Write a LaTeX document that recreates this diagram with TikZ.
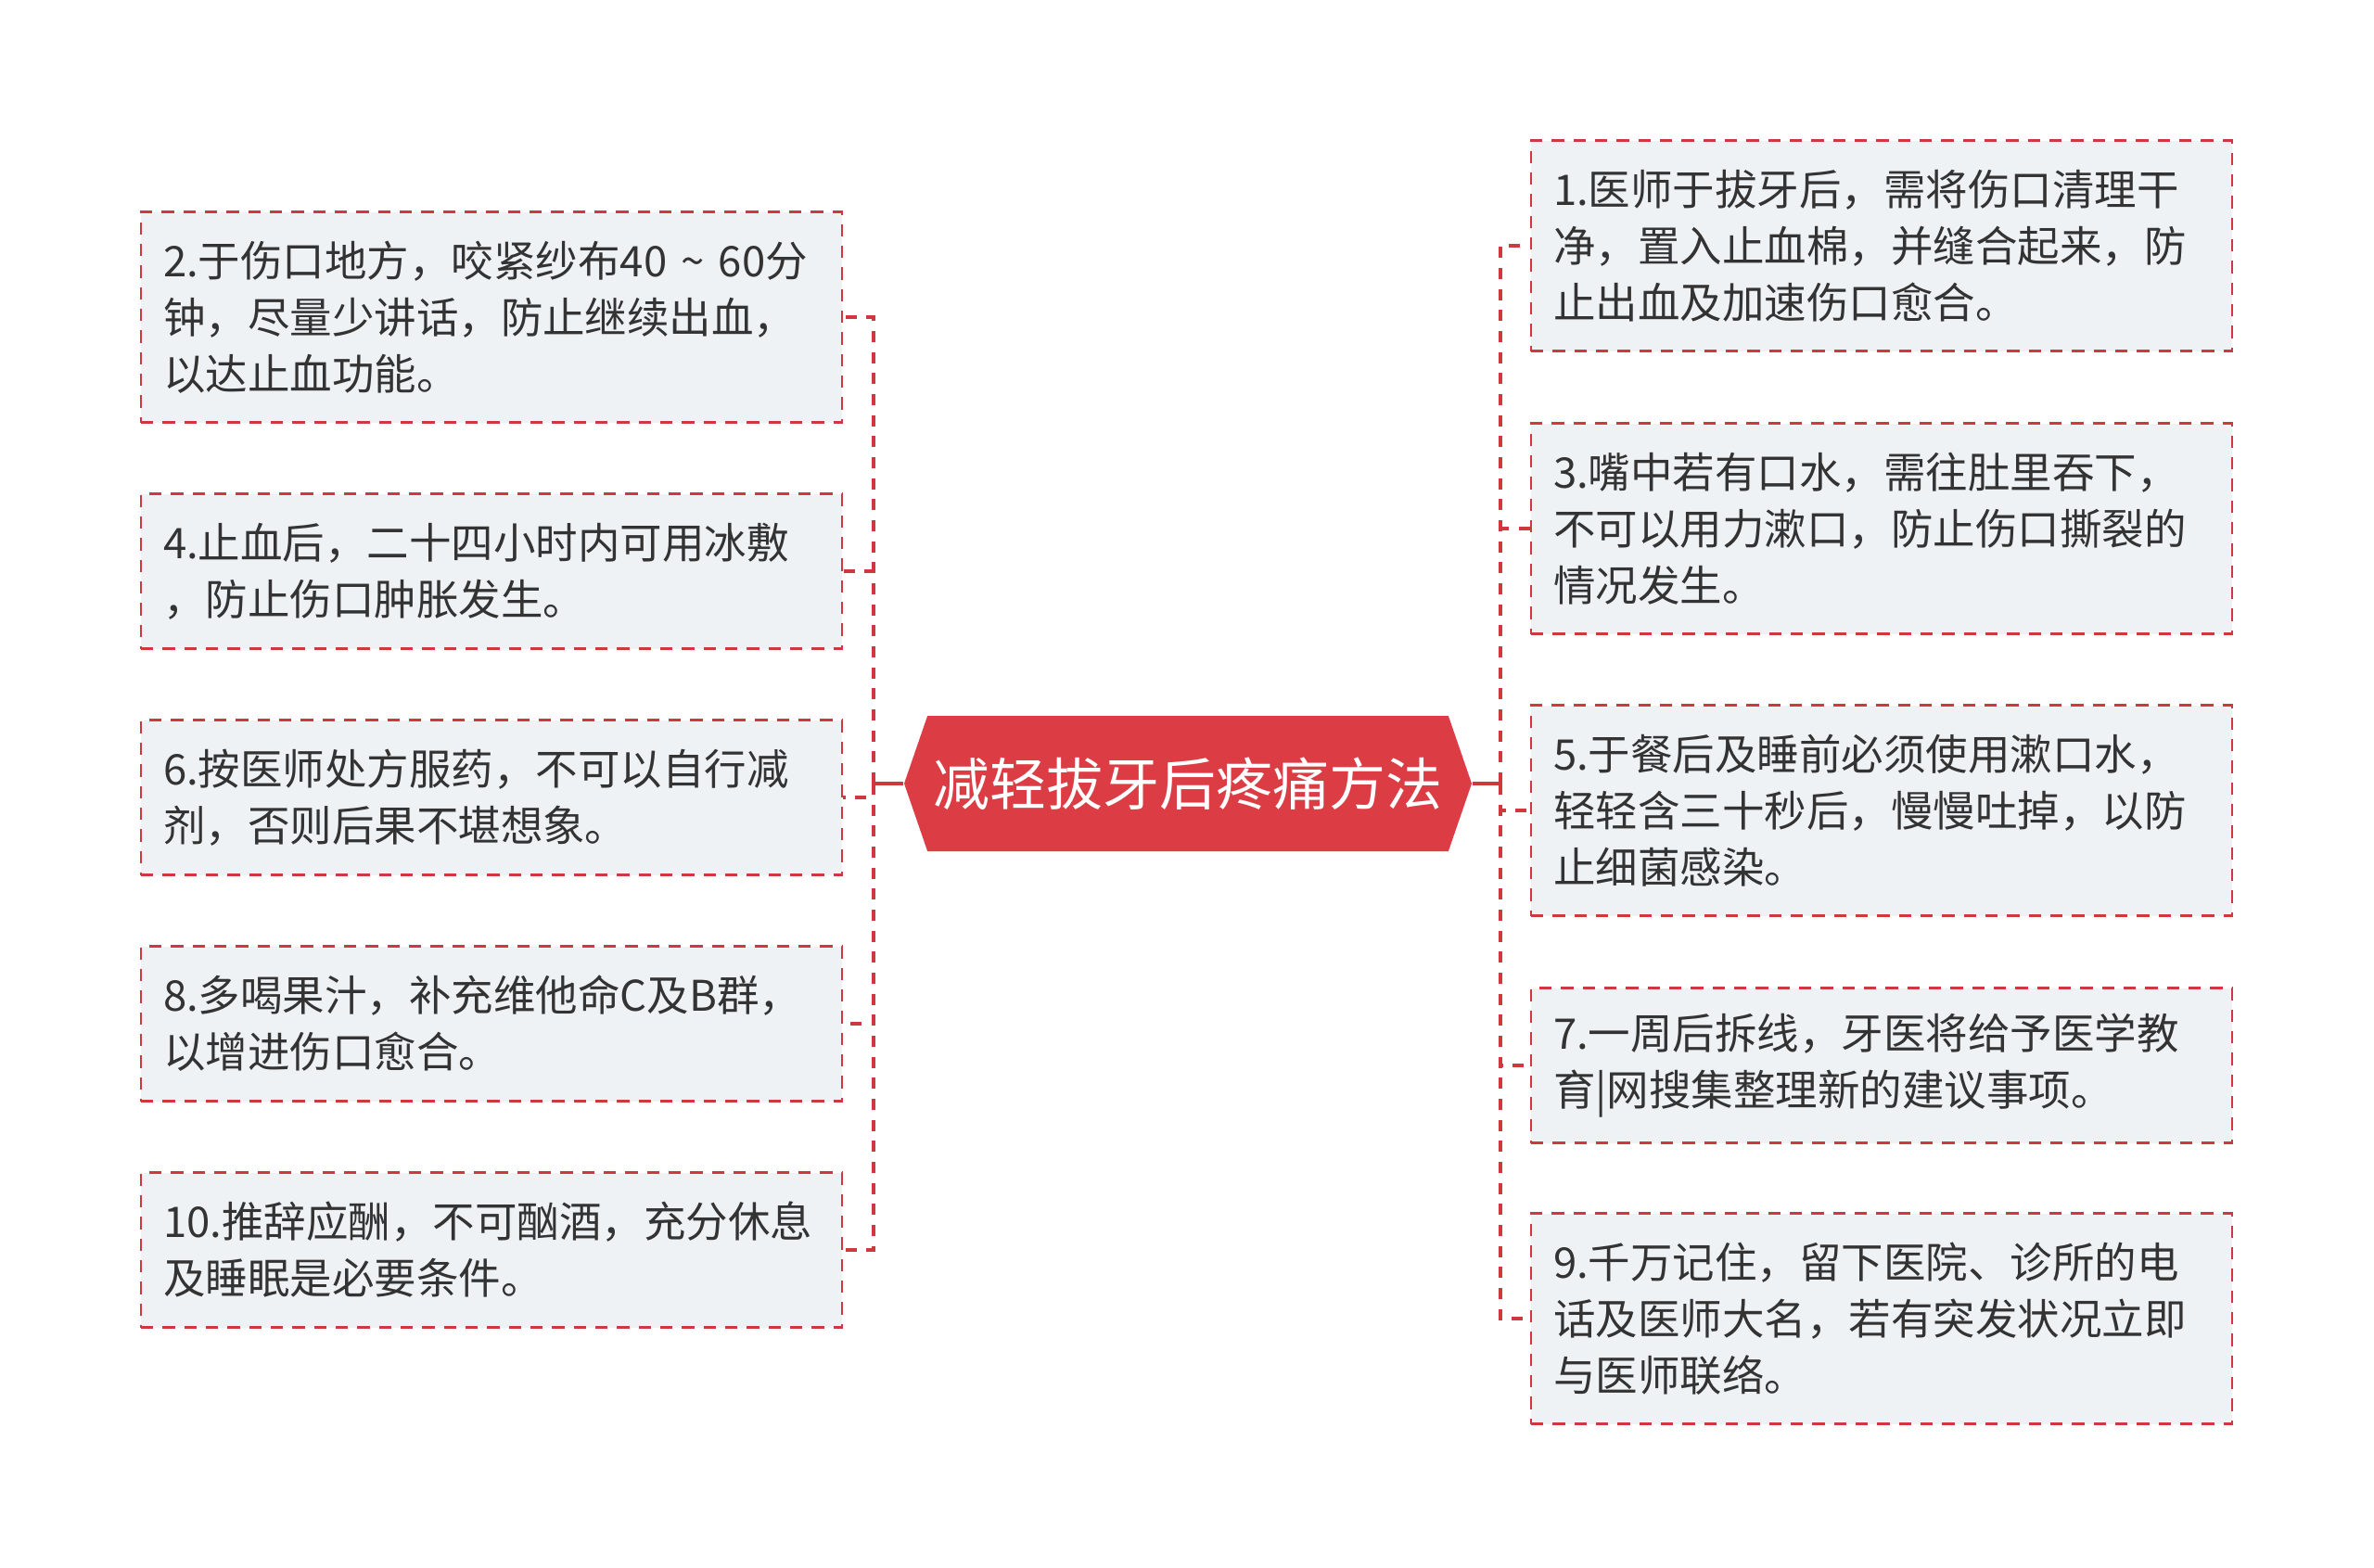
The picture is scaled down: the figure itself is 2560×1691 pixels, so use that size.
\documentclass[tikz,border=0pt]{standalone}
\usepackage{fontspec}
\setmainfont{Noto Sans CJK SC}
\usepackage{tikz}
\usetikzlibrary{shapes.symbols}
\definecolor{rootred}{RGB}{220, 60, 68}
\definecolor{linkred}{RGB}{208, 56, 64}
\definecolor{boxgray}{RGB}{239, 242, 245}
\definecolor{textgray}{RGB}{51, 51, 51}

\begin{document}
\begin{tikzpicture}[x=0.3pt,y=-0.3pt,
    tipbox/.style={draw=linkred,line width=0.8pt,dash pattern=on 4pt off 3pt,fill=boxgray,
        minimum width=226.8pt,text width=212.4pt,inner xsep=7.2pt,inner ysep=0pt,align=left,
        text=textgray,font=\fontsize{13.65pt}{18.3pt}\selectfont},
    tall/.style={minimum height=68.1pt},
    short/.style={minimum height=50.1pt},
    titlebox/.style={signal,signal to=west and east,signal pointer angle=142,fill=rootred,
        minimum width=183.6pt,minimum height=43.8pt,inner sep=0pt,text=white,
        font=\fontsize{18.3pt}{22pt}\selectfont},
    link/.style={linkred,line width=1.2pt,dash pattern=on 3.6pt off 3.2pt}]
            \useasboundingbox (0,0) rectangle (2560,1691);

            \node[titlebox] (root) at (1281,845) {减轻拔牙后疼痛方法};
            \coordinate (jl) at (942,845);
            \coordinate (jr) at (1618,845);

            % left side
            \node[tipbox,tall] (b2) at (530,342) {2.于伤口地方，咬紧纱布40 \textasciitilde{} 60分\\钟，尽量少讲话，防止继续出血，\\以达止血功能。};
            \node[tipbox,short] (b4) at (530,616) {4.止血后，二十四小时内可用冰敷\\，防止伤口肿胀发生。};
            \node[tipbox,short] (b6) at (530,860) {6.按医师处方服药，不可以自行减\\剂，否则后果不堪想象。};
            \node[tipbox,short] (b8) at (530,1104) {8.多喝果汁，补充维他命C及B群，\\以增进伤口愈合。};
            \node[tipbox,short] (b10) at (530,1348) {10.推辞应酬，不可酗酒，充分休息\\及睡眠是必要条件。};

            % right side
            \node[tipbox,tall] (b1) at (2029,265) {1.医师于拔牙后，需将伤口清理干\\净，置入止血棉，并缝合起来，防\\止出血及加速伤口愈合。};
            \node[tipbox,tall] (b3) at (2029,570) {3.嘴中若有口水，需往肚里吞下，\\不可以用力漱口，防止伤口撕裂的\\情况发生。};
            \node[tipbox,tall] (b5) at (2029,874) {5.于餐后及睡前必须使用漱口水，\\轻轻含三十秒后，慢慢吐掉，以防\\止细菌感染。};
            \node[tipbox,short] (b7) at (2029,1149) {7.一周后拆线，牙医将给予医学教\\育|网搜集整理新的建议事项。};
            \node[tipbox,tall] (b9) at (2029,1422) {9.千万记住，留下医院、诊所的电\\话及医师大名，若有突发状况立即\\与医师联络。};

            \draw[linkred,line width=1.2pt] (root.west) -- (jl);
            \draw[linkred,line width=1.2pt] (root.east) -- (jr);

            \draw[link] (jl) |- (b2.east);
            \draw[link] (jl) |- (b4.east);
            \draw[link] (jl) |- (b6.east);
            \draw[link] (jl) |- (b8.east);
            \draw[link] (jl) |- (b10.east);

            \draw[link] (jr) |- (b1.west);
            \draw[link] (jr) |- (b3.west);
            \draw[link] (jr) |- (b5.west);
            \draw[link] (jr) |- (b7.west);
            \draw[link] (jr) |- (b9.west);
        \end{tikzpicture}
\end{document}
